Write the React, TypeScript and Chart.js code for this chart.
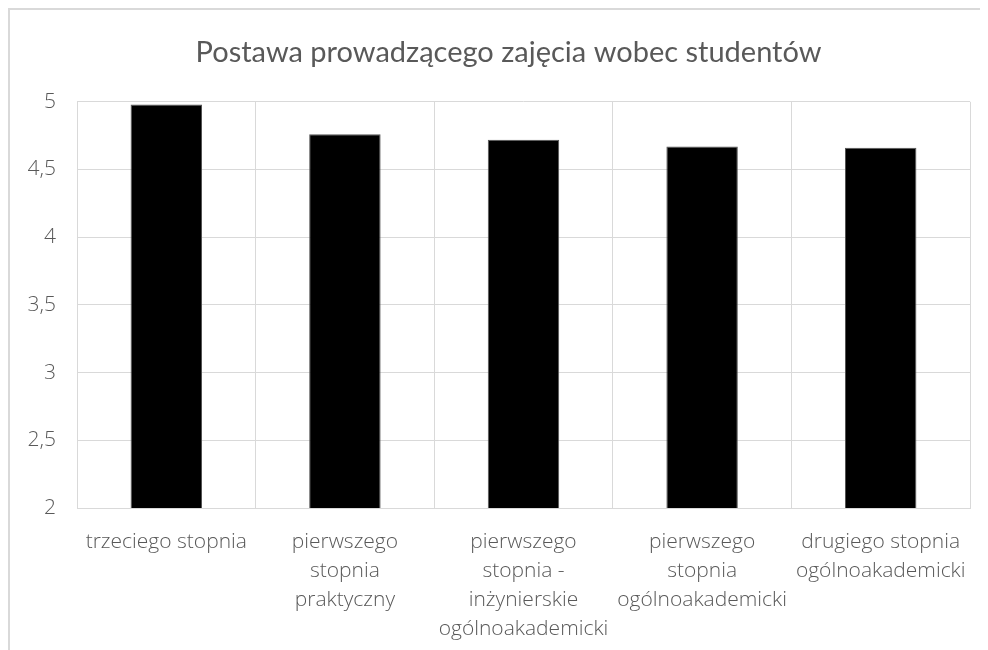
import React, { useEffect, useRef } from "react";
import { Chart, registerables } from "chart.js";

Chart.register(...registerables);

const TITLE = "Postawa prowadzącego zajęcia wobec studentów";
const CATEGORIES: string[][] = [
  ["trzeciego stopnia"],
  ["pierwszego", "stopnia", "praktyczny"],
  ["pierwszego", "stopnia -", "inżynierskie", "ogólnoakademicki"],
  ["pierwszego", "stopnia", "ogólnoakademicki"],
  ["drugiego stopnia", "ogólnoakademicki"],
];
const VALUES: number[] = [4.98, 4.76, 4.72, 4.67, 4.66];
const Y_MIN = 2;
const Y_MAX = 5;
const Y_STEP = 0.5;

const FONT = "'Open Sans', Lato, sans-serif";
const TITLE_FONT = "Lato, 'Open Sans', sans-serif";
const TEXT = "#595959";
const GRID = "#d9d9d9";

const titleShift = {
  id: "titleShift",
  afterLayout(chart: any) {
    const tb = chart.titleBlock;
    if (tb) {
      tb.left = 37;
      tb.right = 960;
    }
  },
};

export default function App() {
  const ref = useRef<HTMLCanvasElement | null>(null);
  useEffect(() => {
    document.body.style.overflow = "hidden";
    const ctx = ref.current!;
    const chart = new Chart(ctx, {
      type: "bar",
      data: {
        labels: CATEGORIES,
        datasets: [
          {
            data: VALUES,
            backgroundColor: "#000000",
            borderColor: "#555555",
            borderWidth: 1,
            barPercentage: 0.4,
            categoryPercentage: 1,
          },
        ],
      },
      options: {
        animation: false,
        responsive: false,
        devicePixelRatio: 1,
        layout: { padding: { left: 0, right: 18, top: 0, bottom: 0 } },
        plugins: {
          legend: { display: false },
          tooltip: { enabled: false },
          title: {
            display: true,
            text: TITLE,
            color: TEXT,
            font: { family: TITLE_FONT, size: 29, weight: "400" as any, lineHeight: 1.2 },
            padding: { top: 25, bottom: 32 },
          },
        },
        scales: {
          x: {
            grid: { color: GRID, drawTicks: false, offset: true, lineWidth: 1 },
            border: { color: GRID },
            ticks: {
              color: TEXT,
              font: { family: FONT, size: 21, weight: "300" as any, lineHeight: 1.39 },
              padding: 19,
              maxRotation: 0,
              autoSkip: false,
            },
            afterFit: (s: any) => {
              s.height = 142;
            },
          },
          y: {
            min: Y_MIN,
            max: Y_MAX,
            grid: { color: GRID, drawTicks: false },
            border: { display: false },
            ticks: {
              stepSize: Y_STEP,
              color: TEXT,
              font: { family: FONT, size: 21, weight: "300" as any },
              padding: 21,
              callback: (v: any) => String(v).replace(".", ","),
            },
            afterFit: (s: any) => {
              s.width = 67;
            },
          },
        },
      },
      plugins: [titleShift],
    });
    return () => chart.destroy();
  }, []);
  return (
    <div
      style={{
        width: 978,
        height: 640,
        borderTop: "2px solid #d9d9d9",
        borderLeft: "2px solid #d9d9d9",
        background: "#fff",
        overflow: "hidden",
      }}
    >
      <canvas ref={ref} width={978} height={640} style={{ display: "block" }} />
    </div>
  );
}
